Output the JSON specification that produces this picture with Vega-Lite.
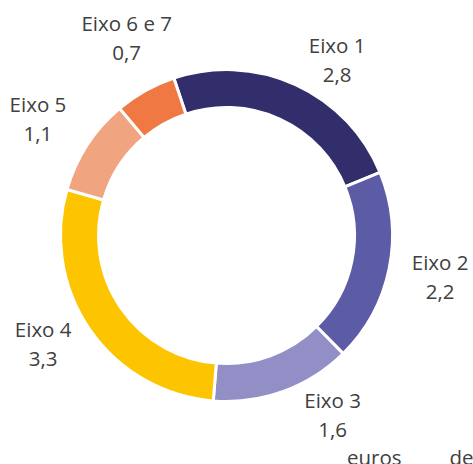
{
  "$schema": "https://vega.github.io/schema/vega-lite/v6.json",
  "width": 453,
  "height": 451,
  "autosize": {"type": "none"},
  "padding": {"left": 0, "top": 10, "right": 20, "bottom": 3},
  "background": "white",
  "view": {"stroke": null},
  "title": {
    "text": "euros\u00a0\u00a0\u00a0\u00a0\u00a0\u00a0\u00a0\u00a0\u00a0de",
    "orient": "bottom",
    "anchor": "end",
    "baseline": "top",
    "offset": -12,
    "dx": 5,
    "font": "Open Sans",
    "fontSize": 20.5,
    "fontWeight": "normal",
    "color": "#404040"
  },
  "data": {
    "values": [
      {"eixo": "Eixo 1", "valor": 2.8, "ordem": 1},
      {"eixo": "Eixo 2", "valor": 2.2, "ordem": 2},
      {"eixo": "Eixo 3", "valor": 1.6, "ordem": 3},
      {"eixo": "Eixo 4", "valor": 3.3, "ordem": 4},
      {"eixo": "Eixo 5", "valor": 1.1, "ordem": 5},
      {"eixo": "Eixo 6 e 7", "valor": 0.7, "ordem": 6}
    ]
  },
  "transform": [
    {"calculate": "datum.eixo + '\\n' + replace(format(datum.valor, '.1f'), '.', ',')", "as": "rotulo"}
  ],
  "encoding": {
    "theta": {"field": "valor", "type": "quantitative", "stack": true, "scale": {"range": [-0.323, 5.9602]}},
    "order": {"field": "ordem", "type": "quantitative"}
  },
  "layer": [
    {
      "mark": {"type": "arc", "innerRadius": 128, "outerRadius": 166, "stroke": "white", "strokeWidth": 3},
      "encoding": {
        "color": {
          "field": "eixo",
          "type": "nominal",
          "legend": null,
          "scale": {
            "domain": ["Eixo 1", "Eixo 2", "Eixo 3", "Eixo 4", "Eixo 5", "Eixo 6 e 7"],
            "range": ["#322d6b", "#5c5ba5", "#918fc5", "#fdc400", "#f0a47f", "#ef7843"]
          }
        }
      }
    },
    {
      "mark": {"type": "text", "radius": 206, "thetaOffset": 0.138, "dy": -14.5, "font": "Open Sans", "fontSize": 20.5, "lineBreak": "\n", "lineHeight": 29, "color": "#404040", "align": "center", "baseline": "middle"},
      "encoding": {"text": {"condition": {"test": "datum.eixo === 'Eixo 1'", "field": "rotulo"}, "value": ""}}
    },
    {
      "mark": {"type": "text", "radius": 218, "dy": -14.5, "font": "Open Sans", "fontSize": 20.5, "lineBreak": "\n", "lineHeight": 29, "color": "#404040", "align": "center", "baseline": "middle"},
      "encoding": {"text": {"condition": {"test": "datum.eixo === 'Eixo 2'", "field": "rotulo"}, "value": ""}}
    },
    {
      "mark": {"type": "text", "radius": 210, "thetaOffset": -0.18, "dy": -14.5, "font": "Open Sans", "fontSize": 20.5, "lineBreak": "\n", "lineHeight": 29, "color": "#404040", "align": "center", "baseline": "middle"},
      "encoding": {"text": {"condition": {"test": "datum.eixo === 'Eixo 3'", "field": "rotulo"}, "value": ""}}
    },
    {
      "mark": {"type": "text", "radius": 214, "thetaOffset": 0.063, "dy": -14.5, "font": "Open Sans", "fontSize": 20.5, "lineBreak": "\n", "lineHeight": 29, "color": "#404040", "align": "center", "baseline": "middle"},
      "encoding": {"text": {"condition": {"test": "datum.eixo === 'Eixo 4'", "field": "rotulo"}, "value": ""}}
    },
    {
      "mark": {"type": "text", "radius": 221, "thetaOffset": -0.028, "dy": -14.5, "font": "Open Sans", "fontSize": 20.5, "lineBreak": "\n", "lineHeight": 29, "color": "#404040", "align": "center", "baseline": "middle"},
      "encoding": {"text": {"condition": {"test": "datum.eixo === 'Eixo 5'", "field": "rotulo"}, "value": ""}}
    },
    {
      "mark": {"type": "text", "radius": 220, "thetaOffset": 0.04, "dy": -14.5, "font": "Open Sans", "fontSize": 20.5, "lineBreak": "\n", "lineHeight": 29, "color": "#404040", "align": "center", "baseline": "middle"},
      "encoding": {"text": {"condition": {"test": "datum.eixo === 'Eixo 6 e 7'", "field": "rotulo"}, "value": ""}}
    }
  ]
}
